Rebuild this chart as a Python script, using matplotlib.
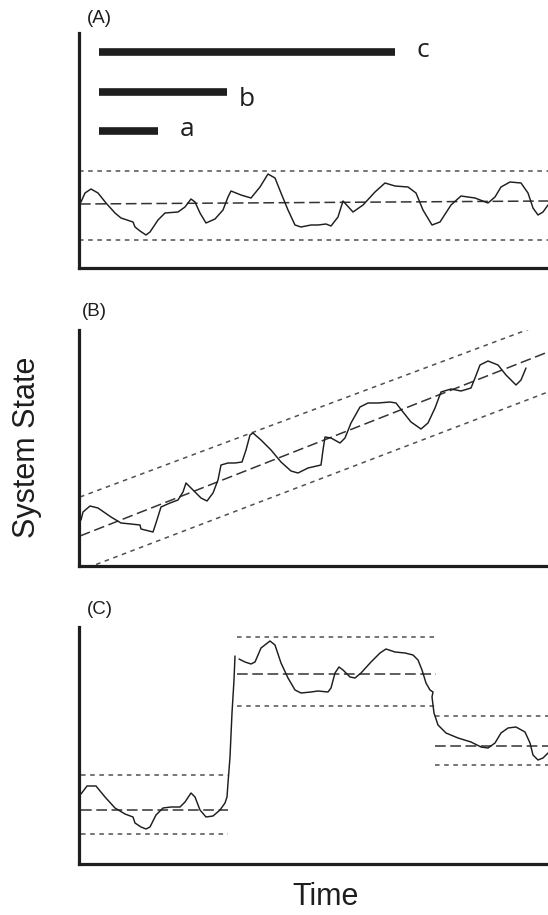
import matplotlib
matplotlib.use('Agg')
import matplotlib.pyplot as plt

# Values are read off the reference, in pixels from each panel's origin
# (time to the right, state upward).

# Panel A - stationary series
a_time = [2, 6, 12, 19, 27, 36, 42, 54, 56, 61, 67, 71, 79, 86, 99, 106, 112,
          116, 121, 127, 136, 144, 149, 152, 162, 172, 181, 189, 196, 202, 209,
          216, 222, 232, 239, 247, 252, 259, 264, 274, 284, 296, 306, 316, 329,
          337, 344, 353, 361, 372, 382, 396, 409, 416, 422, 431, 442, 449, 454,
          459, 464, 469]
a_state = [66, 75, 79, 75, 65, 55, 50, 46, 41, 37, 33, 36, 48, 55, 56, 61, 69,
           66, 55, 45, 49, 58, 71, 77, 73, 70, 81, 94, 90, 75, 58, 43, 41, 43,
           43, 44, 42, 51, 67, 56, 63, 76, 85, 82, 81, 75, 58, 43, 46, 63, 72,
           70, 65, 71, 81, 86, 85, 75, 60, 53, 56, 63]
a_mean = ([1, 469], [64, 67])
a_upper = 97
a_lower = 28
bar_names = ['c', 'b', 'a']
bar_ends = [316, 148, 79]
bar_levels = [216, 176, 137]
bar_label_pos = [(344, 217.5), (168, 168.5), (108, 139)]

# Panel B - trending series
b_time = [2, 4, 11, 19, 32, 42, 52, 61, 62, 74, 77, 82, 91, 99, 104, 107, 116,
          122, 128, 134, 139, 142, 149, 156, 163, 167, 171, 174, 182, 192, 202,
          212, 219, 229, 242, 244, 246, 252, 261, 266, 272, 281, 289, 299, 311,
          317, 324, 332, 342, 349, 356, 362, 372, 382, 392, 396, 401, 409, 419,
          427, 437, 442, 447]
b_state = [46, 54, 60, 58, 49, 43, 42, 41, 37, 34, 43, 59, 63, 66, 74, 83, 74,
           68, 65, 73, 86, 101, 103, 103, 104, 116, 131, 133, 126, 116, 104, 95,
           93, 98, 101, 116, 129, 128, 123, 128, 143, 159, 163, 163, 164, 163,
           154, 144, 137, 143, 158, 174, 177, 175, 178, 188, 201, 205, 201, 191,
           181, 186, 198]
b_mean = ([1, 469], [30, 214])
b_upper = ([1, 469], [69, 244])
b_lower = ([0, 469], [-5, 174])

# Panel C - regime shifts
c_time_1 = [2, 8, 17, 26, 36, 46, 54, 56, 62, 67, 71, 77, 84, 92, 101, 106,
            112, 116, 121, 127, 134, 141, 146, 148, 149, 151, 153, 155, 156]
c_state_1 = [70, 78, 78, 67, 56, 50, 47, 41, 37, 35, 37, 49, 56, 57, 57, 62,
             71, 67, 54, 47, 48, 54, 61, 67, 81, 107, 151, 184, 208]
c_time_2 = [160, 166, 172, 176, 182, 191, 196, 202, 209, 216, 222, 232, 239,
            249, 252, 256, 260, 264, 271, 276, 282, 292, 301, 307, 316, 326,
            334, 339, 343, 347, 351, 354, 353, 355, 359, 367, 379, 392, 402,
            409, 416, 422, 429, 437, 446, 451, 454, 459, 464, 469]
c_state_2 = [205, 202, 200, 202, 216, 223, 219, 201, 186, 174, 171, 172, 173,
             172, 176, 191, 197, 194, 187, 186, 191, 202, 211, 215, 212, 211,
             209, 204, 194, 181, 174, 172, 167, 151, 139, 131, 126, 122, 117,
             116, 121, 131, 136, 137, 132, 121, 109, 104, 106, 111]
c_spans = [(2, 149), (158, 357), (356, 469)]
c_means = [54, 190, 118]
c_uppers = [89, 227, 148]
c_lowers = [30, 158, 99]

INK = '#1e1e1e'
MEAN_COLOR = '#333333'
BAND_COLOR = '#505050'
MEAN_DASH = (7, 3)
BAND_DASH = (3, 3)
CURVE = dict(color=INK, lw=1.05, solid_joinstyle='round',
             solid_capstyle='round')
MEAN = dict(color=MEAN_COLOR, lw=1.1, dashes=MEAN_DASH)
BAND = dict(color=BAND_COLOR, lw=1.1, dashes=BAND_DASH)

W, H = 548, 915
X0 = 79
PANELS = [(268, 235), (566, 236), (864, 237)]


def make_axes(fig, bottom_px, height_px):
    ax = fig.add_axes([X0 / W, (H - bottom_px) / H, (W - X0) / W, height_px / H])
    ax.set_xlim(0, W - X0)
    ax.set_ylim(0, height_px)
    for side in ['top', 'right']:
        ax.spines[side].set_visible(False)
    for side in ['left', 'bottom']:
        ax.spines[side].set_linewidth(2.3)
        ax.spines[side].set_color(INK)
    ax.set_xticks([])
    ax.set_yticks([])
    ax.patch.set_alpha(0)
    return ax


def main():
    fig = plt.figure(figsize=(W / 100, H / 100), dpi=100)
    ax_a, ax_b, ax_c = [make_axes(fig, b, h) for b, h in PANELS]

    # (A)
    ax_a.axhline(a_upper, **BAND)
    ax_a.axhline(a_lower, **BAND)
    ax_a.plot(*a_mean, **MEAN)
    ax_a.plot(a_time, a_state, **CURVE)
    for name, end, level, (tx, ty) in zip(bar_names, bar_ends, bar_levels,
                                          bar_label_pos):
        ax_a.plot([20, end], [level, level], color=INK, lw=5.5,
                  solid_capstyle='butt')
        ax_a.text(tx, ty, name, fontsize=19, family='Open Sans',
                  ha='center', va='center', color=INK)

    # (B)
    ax_b.plot(*b_upper, **BAND)
    ax_b.plot(*b_lower, **BAND)
    ax_b.plot(*b_mean, **MEAN)
    ax_b.plot(b_time, b_state, **CURVE)

    # (C)
    for (x1, x2), m, u, l in zip(c_spans, c_means, c_uppers, c_lowers):
        ax_c.plot([x1, x2], [u, u], **BAND)
        ax_c.plot([x1, x2], [l, l], **BAND)
        ax_c.plot([x1, x2], [m, m], **MEAN)
    ax_c.plot(c_time_1, c_state_1, **CURVE)
    ax_c.plot(c_time_2, c_state_2, **CURVE)

    for ax, label, x, y in [(ax_a, '(A)', 8, 249.5), (ax_b, '(B)', 3, 255),
                            (ax_c, '(C)', 8, 255)]:
        ax.text(x, y, label, fontsize=13.5, family='Liberation Sans',
                ha='left', va='center', color=INK, clip_on=False)

    fig.text(27.5 / W, (H - 447) / H, 'System State', rotation=90,
             fontsize=22, family='Liberation Sans', ha='center', va='center',
             color=INK)
    fig.text(325.5 / W, (H - 905) / H, 'Time', fontsize=22,
             family='Liberation Sans', ha='center', va='baseline', color=INK)

    fig.savefig('out.png', dpi=100)


if __name__ == '__main__':
    main()
